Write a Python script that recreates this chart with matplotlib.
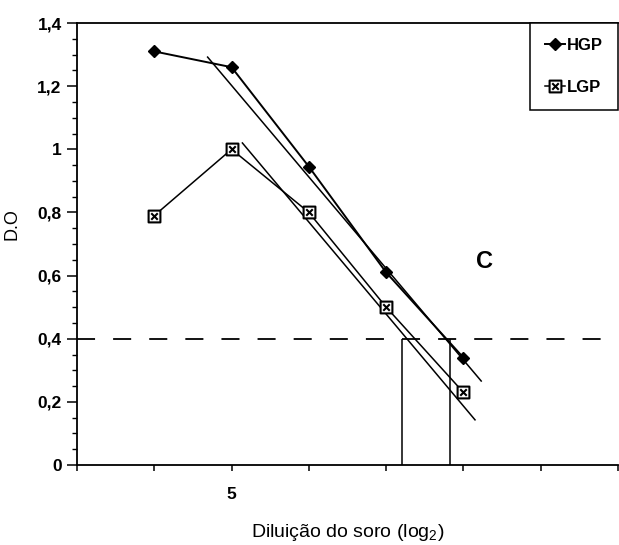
import matplotlib
matplotlib.use('Agg')
import matplotlib.pyplot as plt
from matplotlib.path import Path
from matplotlib.ticker import FixedLocator, MultipleLocator

plt.rcParams['font.family'] = ['Liberation Sans', 'DejaVu Sans']
plt.rcParams['font.weight'] = 'bold'
plt.rcParams['mathtext.fontset'] = 'custom'
plt.rcParams['mathtext.rm'] = 'Liberation Sans'

# serum dilution (log2) and optical density
dilution = [4, 5, 6, 7, 8]
hgp = [1.31, 1.26, 0.945, 0.61, 0.34]
lgp = [0.79, 1.0, 0.80, 0.50, 0.23]

# fitted lines drawn over the linear part
hgp_fit_x = [4.69, 8.23]
hgp_fit_y = [1.292, 0.266]
lgp_fit_x = [5.14, 8.15]
lgp_fit_y = [1.02, 0.143]

cutoff = 0.4
titers = [7.21, 7.82]

x_ticks = [3, 4, 5, 6, 7, 8, 9, 10]
x_ticklabels = ['', '', '5', '', '', '', '', '']
y_ticks = [0, 0.2, 0.4, 0.6, 0.8, 1.0, 1.2, 1.4]
y_ticklabels = ['0', '0,2', '0,4', '0,6', '0,8', '1', '1,2', '1,4']

# square with a cross inside
box_x = Path([(-1, -1), (1, -1), (1, 1), (-1, 1), (-1, -1),
              (-0.55, -0.55), (0.55, 0.55), (-0.55, 0.55), (0.55, -0.55)],
             [Path.MOVETO, Path.LINETO, Path.LINETO, Path.LINETO, Path.CLOSEPOLY,
              Path.MOVETO, Path.LINETO, Path.MOVETO, Path.LINETO])

fig = plt.figure(figsize=(6.19, 5.45), dpi=100)
ax = fig.add_axes([77 / 619, 80 / 545, 541 / 619, 442 / 545])

ax.plot(hgp_fit_x, hgp_fit_y, color='black', lw=1.1)
ax.plot(lgp_fit_x, lgp_fit_y, color='black', lw=1.1)
ax.plot(dilution, hgp, color='black', lw=1.4, marker='D', markersize=6,
        label='HGP', zorder=3)
ax.plot(dilution, lgp, color='black', lw=1.1, marker=box_x, markersize=8.5,
        markerfacecolor='white', markeredgewidth=1.5, label='LGP', zorder=3)

ax.axhline(cutoff, color='black', lw=1.3, dashes=(10, 10))
ax.vlines(titers, 0, cutoff, color='black', lw=1.1)

ax.text(8.27, 0.643, 'C', fontsize=17, ha='center', va='center')

ax.set_xlim(3, 10)
ax.set_ylim(0, 1.4)
ax.spines['right'].set_visible(False)
for s in ['left', 'bottom', 'top']:
    ax.spines[s].set_linewidth(1.3)

ax.xaxis.set_major_locator(FixedLocator(x_ticks))
ax.set_xticklabels(x_ticklabels)
ax.yaxis.set_major_locator(FixedLocator(y_ticks))
ax.set_yticklabels(y_ticklabels)
ax.yaxis.set_minor_locator(MultipleLocator(0.05))
ax.tick_params(axis='x', direction='out', length=4.5, width=1.1, pad=11, labelsize=12.5)
ax.tick_params(axis='y', which='major', direction='out', length=7, width=1.1, pad=4, labelsize=12.5)
ax.tick_params(axis='y', which='minor', direction='out', length=3.5, width=1.0)

ax.set_xlabel('Diluição do soro (log$_\\mathregular{2}$)', fontsize=14, labelpad=15)
ax.set_ylabel('D.O', fontsize=13)
ax.yaxis.set_label_coords(-56 / 541, (465 - 224) / 442)

leg = ax.legend(loc='upper right', fancybox=False, edgecolor='black',
                borderaxespad=0, handlelength=1.2, handletextpad=0.1,
                borderpad=0.9, labelspacing=1.6, fontsize=12, framealpha=1)
leg.get_frame().set_linewidth(1.1)

fig.savefig('out.png', dpi=100)
